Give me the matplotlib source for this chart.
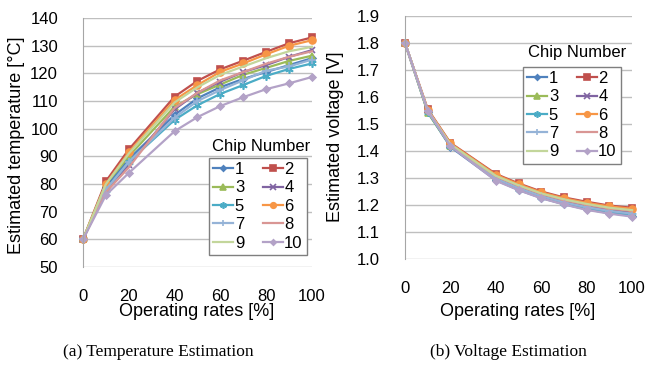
import matplotlib
matplotlib.use("Agg")
import matplotlib.pyplot as plt

plt.rcParams['font.family'] = ['Liberation Sans', 'DejaVu Sans']

rates = [0, 10, 20, 40, 50, 60, 70, 80, 90, 100]
chips = ['1', '2', '3', '4', '5', '6', '7', '8', '9', '10']

temp = {
    '1':  [60, 79, 89, 105, 111, 115, 118, 120.5, 123, 125.5],
    '2':  [60, 81, 92.5, 111.6, 117.3, 121.5, 124.6, 127.8, 130.9, 133],
    '3':  [60, 80, 90, 108, 112.5, 116, 119.5, 122, 124.5, 126.4],
    '4':  [60, 78, 87, 107, 113, 117, 120.5, 123, 126, 128.4],
    '5':  [60, 78, 88, 103.2, 108.5, 112.6, 115.8, 119.1, 121.6, 123.6],
    '6':  [60, 80, 91.5, 110.4, 115.8, 120.6, 123.6, 126.9, 130, 132],
    '7':  [60, 78, 88, 104, 110, 114, 117.5, 121, 122.5, 125],
    '8':  [60, 77, 86, 107.5, 113, 117.5, 120.5, 123.5, 126, 128],
    '9':  [60, 80, 91, 109.5, 115, 119.5, 122.5, 125.5, 128, 129.6],
    '10': [60, 76, 84, 99.1, 104.2, 108.2, 111.4, 114.3, 116.4, 118.7],
}

volt = {
    '1':  [1.80, 1.545, 1.415, 1.292, 1.256, 1.226, 1.203, 1.184, 1.170, 1.160],
    '2':  [1.80, 1.555, 1.430, 1.315, 1.280, 1.250, 1.228, 1.212, 1.198, 1.190],
    '3':  [1.80, 1.542, 1.418, 1.302, 1.267, 1.237, 1.214, 1.197, 1.182, 1.172],
    '4':  [1.80, 1.548, 1.423, 1.304, 1.269, 1.239, 1.216, 1.199, 1.185, 1.175],
    '5':  [1.80, 1.545, 1.418, 1.296, 1.260, 1.230, 1.207, 1.189, 1.175, 1.164],
    '6':  [1.80, 1.553, 1.428, 1.312, 1.277, 1.247, 1.225, 1.208, 1.195, 1.186],
    '7':  [1.80, 1.547, 1.420, 1.298, 1.263, 1.233, 1.210, 1.192, 1.178, 1.168],
    '8':  [1.80, 1.550, 1.424, 1.306, 1.271, 1.241, 1.218, 1.201, 1.187, 1.178],
    '9':  [1.80, 1.550, 1.425, 1.308, 1.273, 1.243, 1.221, 1.204, 1.190, 1.181],
    '10': [1.80, 1.550, 1.418, 1.290, 1.255, 1.225, 1.202, 1.182, 1.168, 1.157],
}

colors = {'1': '#4F81BD', '2': '#C0504D', '3': '#9BBB59', '4': '#8064A2',
          '5': '#4BACC6', '6': '#F79646', '7': '#95B3D7', '8': '#D99694',
          '9': '#C3D69B', '10': '#B3A2C7'}
markers = {'1': 'D', '2': 's', '3': '^', '4': 'x', '5': (6, 2, 0),
           '6': 'o', '7': '+', '8': None, '9': None, '10': 'D'}
msizes = {'1': 3.5, '2': 5, '3': 5, '4': 5, '5': 6, '6': 5, '7': 6,
          '8': 5, '9': 5, '10': 3.5}

fig = plt.figure(figsize=(6.45, 3.65), dpi=100)
ax1 = fig.add_axes([0.1287, 0.2685, 0.355, 0.682])
ax2 = fig.add_axes([0.628, 0.2904, 0.352, 0.6656])


def draw(ax, data, ylim, yticks, yfmt):
    handles = {}
    for c in chips:
        ln, = ax.plot(rates, data[c], color=colors[c], marker=markers[c],
                      markersize=msizes[c], markeredgecolor=colors[c],
                      markeredgewidth=1.2, linewidth=1.6, label=c, clip_on=False)
        handles[c] = ln
    ax.set_xlim(0, 100)
    ax.set_ylim(*ylim)
    ax.set_xticks(range(0, 101, 20))
    ax.set_yticks(yticks)
    ax.set_yticklabels([yfmt.format(v) for v in yticks])
    ax.grid(axis='y', color='#BFBFBF', linewidth=1)
    ax.set_axisbelow(True)
    for s in ['top', 'right', 'bottom']:
        ax.spines[s].set_visible(False)
    ax.spines['left'].set_color('#A6A6A6')
    ax.tick_params(axis='x', length=0, pad=16, labelsize=12)
    ax.tick_params(axis='y', length=0, pad=18, labelsize=12)
    return handles


h1 = draw(ax1, temp, (50, 140), list(range(50, 141, 10)), '{:d}')
h2 = draw(ax2, volt, (1.0, 1.9), [round(1.0 + 0.1 * i, 1) for i in range(10)], '{:.1f}')

order = ['1', '3', '5', '7', '9', '2', '4', '6', '8', '10']
for ax, h, anchor in [(ax1, h1, (209 / 645, 1 - 158 / 365)),
                      (ax2, h2, (523 / 645, 1 - 67 / 365))]:
    leg = ax.legend([h[c] for c in order], order, ncol=2, loc='upper left',
                    bbox_to_anchor=anchor, bbox_transform=fig.transFigure,
                    fontsize=12, fancybox=False, framealpha=1,
                    edgecolor='#7F7F7F', handlelength=1.2, handletextpad=0.1,
                    columnspacing=1.1, labelspacing=0.2, borderpad=0.25,
                    borderaxespad=0, markerscale=0.8)
    leg.get_frame().set_linewidth(1)

fig.text(261 / 645, 1 - 147 / 365, 'Chip Number', ha='center', va='center', fontsize=12)
fig.text(577 / 645, 1 - 53 / 365, 'Chip Number', ha='center', va='center', fontsize=12)

fig.text(17 / 645, 1 - 145 / 365, 'Estimated temperature [°C]', rotation=90,
         ha='center', va='center', fontsize=13)
fig.text(335 / 645, 1 - 137 / 365, 'Estimated voltage [V]', rotation=90,
         ha='center', va='center', fontsize=13)
fig.text(197 / 645, 1 - 312 / 365, 'Operating rates [%]', ha='center', va='center', fontsize=13)
fig.text(518 / 645, 1 - 312 / 365, 'Operating rates [%]', ha='center', va='center', fontsize=13)

fig.text(158 / 645, 1 - 352 / 365, '(a) Temperature Estimation', ha='center', va='center',
         fontsize=12.5, family='Liberation Serif')
fig.text(508 / 645, 1 - 352 / 365, '(b) Voltage Estimation', ha='center', va='center',
         fontsize=12.5, family='Liberation Serif')

fig.savefig('out.png', dpi=100)
